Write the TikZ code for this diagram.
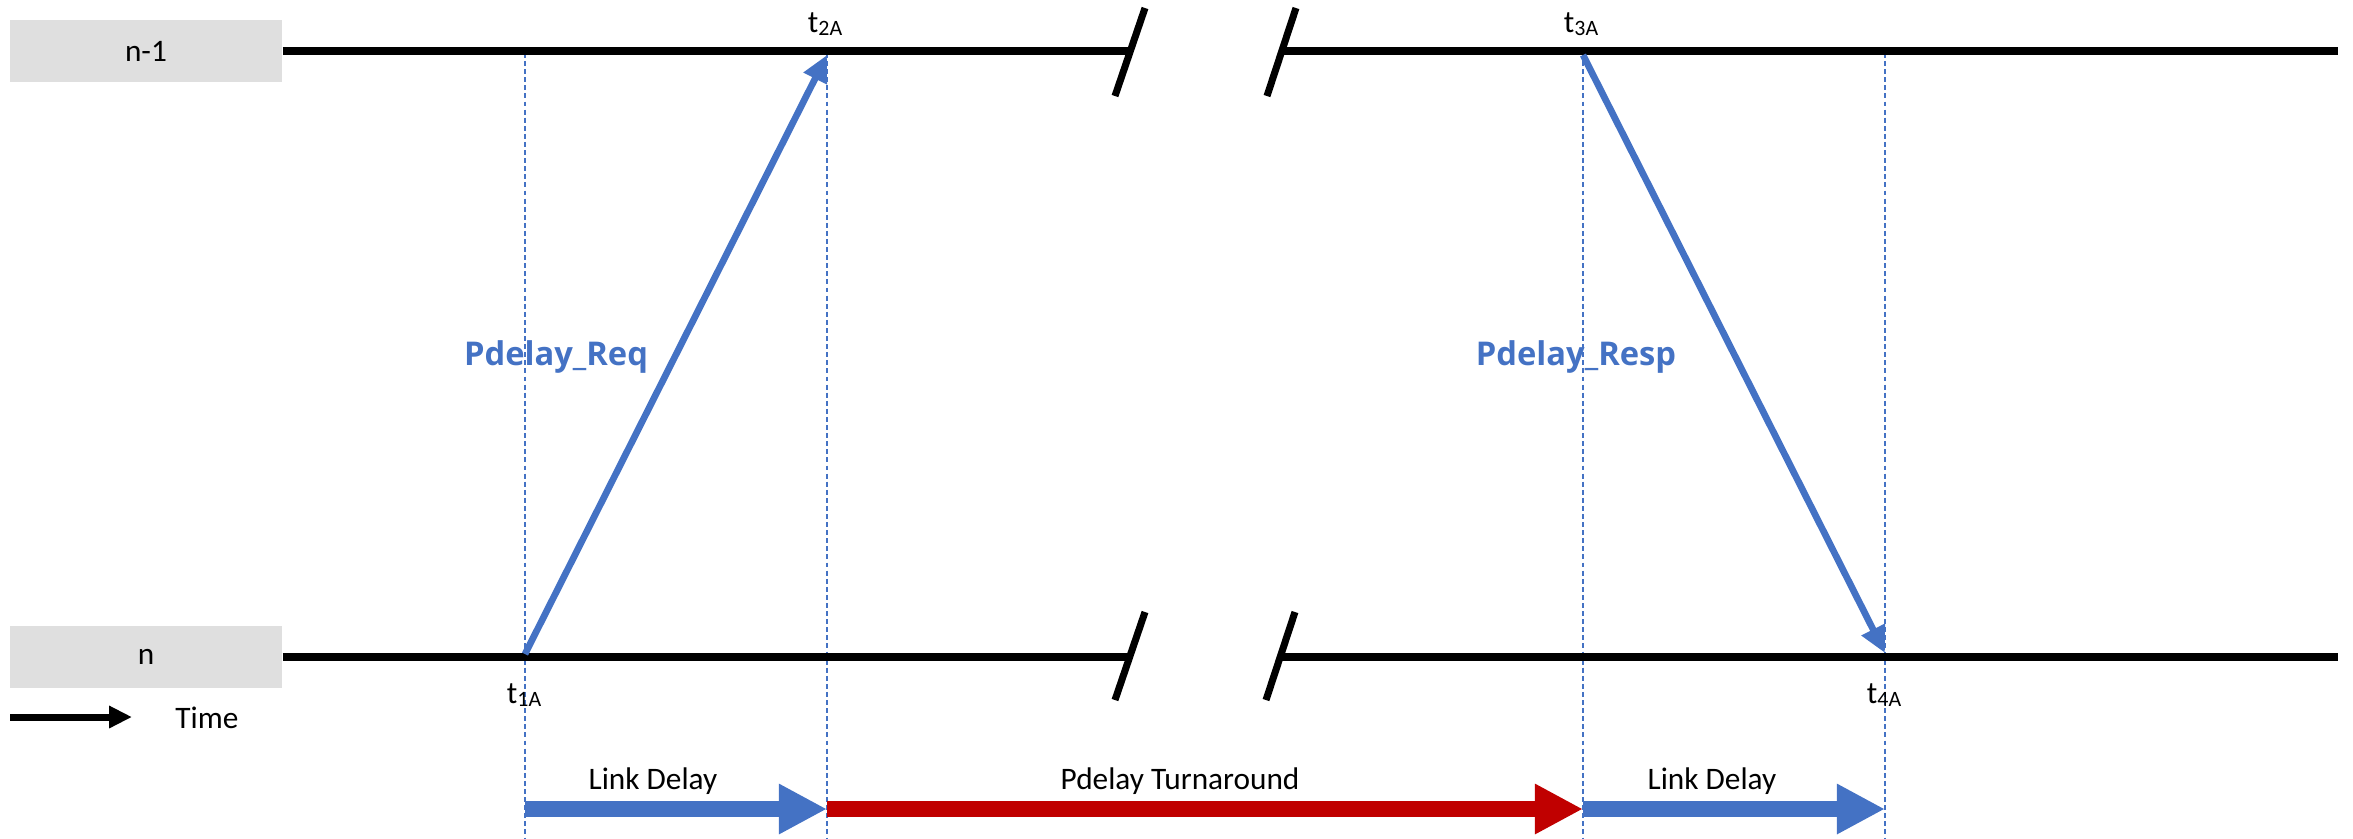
\documentclass[tikz,border=0pt]{standalone}
\usepackage{fontspec}
\setmainfont{Carlito}
\newfontfamily\boldlab{Open Sans}
\usetikzlibrary{arrows.meta}
\definecolor{ublue}{HTML}{4472C4}
\definecolor{ured}{HTML}{C00000}
\definecolor{ugrey}{HTML}{DFDFDF}
\begin{document}
\begin{tikzpicture}[x=0.01cm,y=-0.01cm,
 lanebox/.style={fill=ugrey,draw=none,minimum width=2.72cm,minimum height=0.62cm,inner sep=0,font=\fontsize{8.9}{10}\selectfont},
 timeline/.style={line width=2.2pt,black},
 breakmark/.style={line width=2pt,black},
 guide/.style={ublue,line width=0.4pt,dash pattern=on 1.4pt off 0.9pt},
 msg/.style={ublue,line width=1.9pt,-{Triangle[length=7.5pt,width=7pt]}},
 spanarrow/.style={line width=4.6pt,-{Triangle[length=13.7pt,width=13.4pt]}},
 lbl/.style={font=\fontsize{8.9}{10}\selectfont,inner sep=0,anchor=base},
 msglbl/.style={font=\boldlab\bfseries\fontsize{9.3}{11}\selectfont,text=ublue,inner sep=0,anchor=base},
 tlbl/.style={font=\fontsize{8.9}{10}\selectfont,inner sep=0,anchor=base}
]
\useasboundingbox (0,0) rectangle (2353,838);

% lane boxes
\node[lanebox] (ln1) at (146,51) {n-1};
\node[lanebox] (ln) at (146,657) {n};

% guide lines
\foreach \x/\nm in {525/ga,827/gb,1583/gc,1885/gd}{
  \coordinate (\nm t) at (\x,53);
  \coordinate (\nm b) at (\x,838);
  \draw[guide] (\nm t) -- (\nm b);
}

% timelines
\coordinate (tA) at (1130,51);
\coordinate (tB) at (1282,51);
\coordinate (tEnd) at (2338,51);
\coordinate (bA) at (1130,657);
\coordinate (bB) at (1280,657);
\coordinate (bEnd) at (2338,657);
\draw[timeline] (ln1.east) -- (tA);
\draw[timeline] (tB) -- (tEnd);
\draw[timeline] (ln.east) -- (bA);
\draw[timeline] (bB) -- (bEnd);

% break marks
\coordinate (s1a) at (1145,8);   \coordinate (s1b) at (1115,96);
\coordinate (s2a) at (1296,8);   \coordinate (s2b) at (1267,96);
\coordinate (s3a) at (1145,612); \coordinate (s3b) at (1115,700);
\coordinate (s4a) at (1295,612); \coordinate (s4b) at (1266,700);
\draw[breakmark] (s1a) -- (s1b);
\draw[breakmark] (s2a) -- (s2b);
\draw[breakmark] (s3a) -- (s3b);
\draw[breakmark] (s4a) -- (s4b);

% messages
\coordinate (m1s) at (525,654);
\coordinate (m1e) at (827,55);
\coordinate (m2s) at (1583,55);
\coordinate (m2e) at (1885,653);
\draw[msg] (m1s) -- (m1e);
\draw[msg] (m2s) -- (m2e);
\node[msglbl] (reqlbl) at (556,365) {Pdelay\_Req};
\node[msglbl] (resplbl) at (1576,365) {Pdelay\_Resp};

% timestamps
\node[tlbl] (t2) at (826,32) {t\textsubscript{2A}};
\node[tlbl] (t3) at (1582,32) {t\textsubscript{3A}};
\node[tlbl] (t1) at (525,703) {t\textsubscript{1A}};
\node[tlbl] (t4) at (1885,703) {t\textsubscript{4A}};

% time legend
\coordinate (ta) at (10,717);
\coordinate (tb) at (132,717);
\draw[line width=2pt,-{Triangle[length=6.5pt,width=6pt]}] (ta) -- (tb);
\node[lbl] (timelbl) at (207,728) {Time};

% span arrows
\coordinate (p1) at (525,809);
\coordinate (p2) at (827,809);
\coordinate (p3) at (1583,809);
\coordinate (p4) at (1885,809);
\draw[spanarrow,ublue] (p1) -- (p2);
\draw[spanarrow,ured] (p2) -- (p3);
\draw[spanarrow,ublue] (p3) -- (p4);
\node[lbl] (ld1) at (653,789) {Link Delay};
\node[lbl] (pt) at (1180,789) {Pdelay Turnaround};
\node[lbl] (ld2) at (1712,789) {Link Delay};
\end{tikzpicture}
\end{document}
